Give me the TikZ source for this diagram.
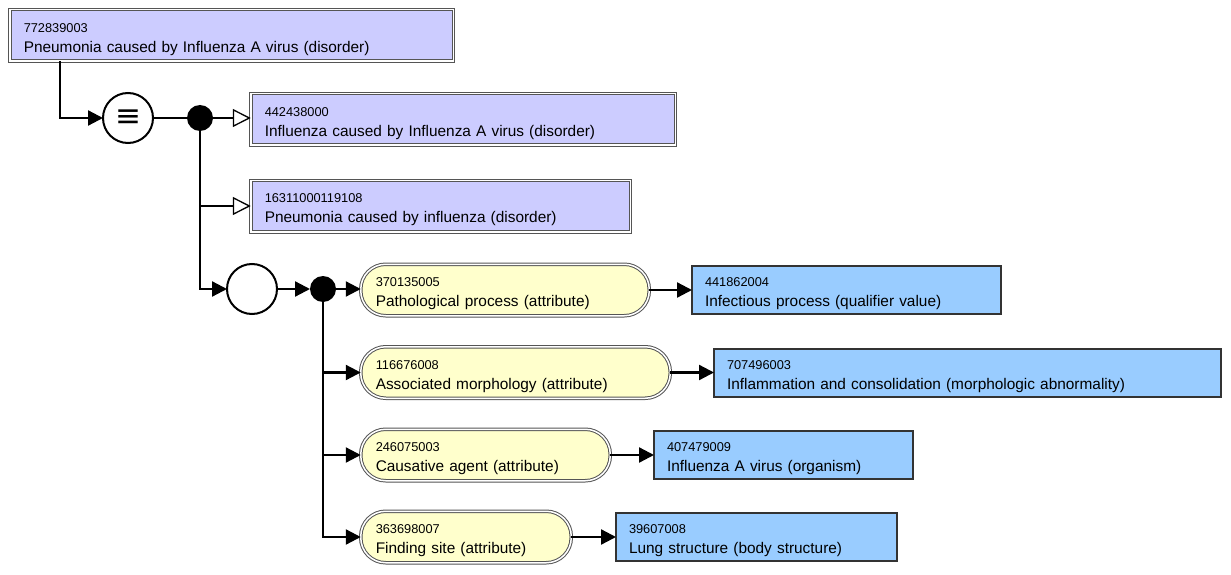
\documentclass[tikz,border=0pt]{standalone}
\usepackage{fontspec}
\setmainfont{Liberation Sans}
\newfontfamily\symfont{DejaVu Sans}
\usetikzlibrary{positioning}
\usetikzlibrary{arrows.meta}

\definecolor{conceptfill}{RGB}{204,204,255}
\definecolor{attrfill}{RGB}{255,255,204}
\definecolor{valuefill}{RGB}{153,204,255}
\definecolor{boxline}{RGB}{85,85,85}
\definecolor{valueline}{RGB}{51,51,51}

\newcommand{\sct}[2]{{\fontsize{12.8}{20}\selectfont\rule{0pt}{17pt}#1}\\#2}

\begin{document}
\begin{tikzpicture}[x=1pt, y=-1pt,
		line width=2.3pt,
		>={Triangle[length=15pt,width=15pt]},
		every node/.style={outer sep=0pt, inner ysep=0pt},
		defined/.style={draw=boxline, double=white, double distance=1.5pt,
			line width=1pt, fill=conceptfill, anchor=west, align=left,
			font=\fontsize{15.4}{20}\selectfont,
			inner xsep=14pt, minimum height=51.5pt},
		attribute/.style={defined, fill=attrfill, rounded corners=25pt,
			inner xsep=15pt},
		value/.style={draw=valueline, line width=2pt, fill=valuefill,
			font=\fontsize{15.4}{20}\selectfont,
			anchor=west, align=left, inner xsep=13pt, minimum height=48pt},
		group/.style={draw, circle, line width=2pt, fill=white, minimum size=50pt},
		junction/.style={circle, fill=black, minimum size=26pt},
		isa/.style={-{Triangle[open,fill=white,length=18pt,width=18pt,line width=1.3pt]}}]
		\useasboundingbox (0,0) rectangle (1231,575);

		\node [defined, text width=415.5pt] (focus) at (9.75,35.5)
			{\sct{772839003}{Pneumonia caused by Influenza A virus (disorder)}};
		\node [group] (equiv) at (128,118) {\symfont\fontsize{31}{31}\selectfont ≡};
		\node [junction] (split) at (200,118) {};
		\node [defined, text width=396.5pt] (parent1) at (250.75,119.5)
			{\sct{442438000}{Influenza caused by Influenza A virus (disorder)}};
		\node [defined, text width=351.5pt] (parent2) at (250.75,206)
			{\sct{16311000119108}{Pneumonia caused by influenza (disorder)}};
		\node [group] (rolegroup) at (252,289) {};
		\node [junction] (roles) at (323,289) {};

		\node [attribute, text width=258.5pt] (attr1) at (360.75,290)
			{\sct{370135005}{Pathological process (attribute)}};
		\node [attribute, text width=279.5pt] (attr2) at (360.75,372.5)
			{\sct{116676008}{Associated morphology (attribute)}};
		\node [attribute, text width=219.5pt] (attr3) at (360.75,455)
			{\sct{246075003}{Causative agent (attribute)}};
		\node [attribute, text width=180.5pt] (attr4) at (360.75,537)
			{\sct{363698007}{Finding site (attribute)}};

		\node [value, text width=283pt] (val1) at (692,290)
			{\sct{441862004}{Infectious process (qualifier value)}};
		\node [value, text width=481pt] (val2) at (714,372.5)
			{\sct{707496003}{Inflammation and consolidation (morphologic abnormality)}};
		\node [value, text width=233pt] (val3) at (654,455)
			{\sct{407479009}{Influenza A virus (organism)}};
		\node [value, text width=255pt] (val4) at (616,537)
			{\sct{39607008}{Lung structure (body structure)}};

		\draw [->] ([xshift=50.25pt]focus.south west) |- (equiv);
		\draw (equiv) -- (split);
		\draw [isa] (split) -- (parent1.west |- split);
		\draw [isa] (split) |- (parent2);
		\draw [->] (split) |- (rolegroup);
		\draw [->] (rolegroup) -- (roles);
		\draw [->] (roles) -- (attr1.west |- roles);
		\draw [->] (roles) |- (attr2);
		\draw [->] (roles) |- (attr3);
		\draw [->] (roles) |- (attr4);
		\path [->]
			(attr1) edge [] (val1)
			(attr2) edge [] (val2)
			(attr3) edge [] (val3)
			(attr4) edge [] (val4);
\end{tikzpicture}
\end{document}
